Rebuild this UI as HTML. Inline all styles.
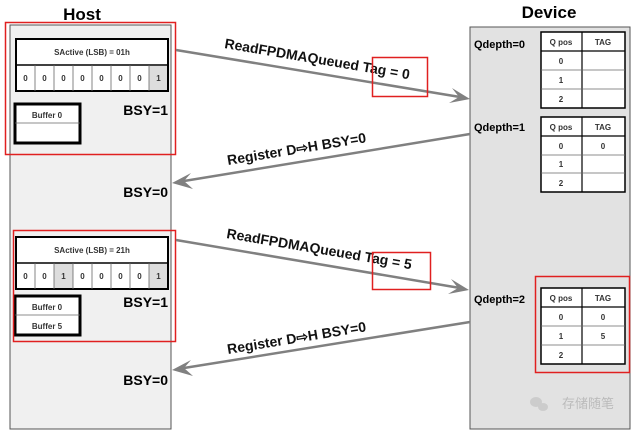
<!DOCTYPE html>
<html><head><meta charset="utf-8"><style>body{margin:0;background:#fff}svg{display:block}</style></head><body>
<svg width="640" height="431" viewBox="0 0 640 431" font-family="Liberation Sans, sans-serif">
<rect x="0" y="0" width="640" height="431" fill="#fff"/>
<text x="82" y="20" font-size="17" font-weight="bold" text-anchor="middle">Host</text>
<text x="549" y="18" font-size="17" font-weight="bold" text-anchor="middle">Device</text>
<rect x="10" y="25" width="161" height="404" fill="#f0f0f0" stroke="#555" stroke-width="1"/>
<rect x="470" y="27" width="160" height="402" fill="#e2e2e2" stroke="#555" stroke-width="1"/>

<rect x="16" y="39" width="152" height="52" fill="#fff" stroke="#000" stroke-width="2"/>
<line x1="16" y1="65" x2="168" y2="65" stroke="#000" stroke-width="1.5"/>
<text x="92" y="55" font-size="8" font-weight="bold" text-anchor="middle" fill="#333">SActive (LSB) = 01h</text>
<rect x="149" y="66" width="18" height="24" fill="#ddd"/>
<g stroke="#666" stroke-width="0.8">
<line x1="35" y1="65" x2="35" y2="91"/><line x1="54" y1="65" x2="54" y2="91"/><line x1="73" y1="65" x2="73" y2="91"/><line x1="92" y1="65" x2="92" y2="91"/><line x1="111" y1="65" x2="111" y2="91"/><line x1="130" y1="65" x2="130" y2="91"/><line x1="149" y1="65" x2="149" y2="91"/>
</g>
<g font-size="8" font-weight="bold" text-anchor="middle" fill="#333">
<text x="25.5" y="81">0</text><text x="44.5" y="81">0</text><text x="63.5" y="81">0</text><text x="82.5" y="81">0</text><text x="101.5" y="81">0</text><text x="120.5" y="81">0</text><text x="139.5" y="81">0</text><text x="158.5" y="81">1</text>
</g>
<rect x="15" y="104" width="65" height="39" fill="#fff" stroke="#000" stroke-width="3"/>
<line x1="15" y1="123" x2="80" y2="123" stroke="#666" stroke-width="0.8"/>
<text x="47" y="118" font-size="8" font-weight="bold" text-anchor="middle" fill="#333">Buffer 0</text>
<text x="168" y="115" font-size="14" font-weight="bold" text-anchor="end">BSY=1</text>
<rect x="5.5" y="22.5" width="170" height="132" fill="none" stroke="#e02020" stroke-width="1.5"/>
<text x="168" y="197" font-size="14" font-weight="bold" text-anchor="end">BSY=0</text>

<rect x="16" y="237" width="152" height="52" fill="#fff" stroke="#000" stroke-width="2"/>
<line x1="16" y1="263" x2="168" y2="263" stroke="#000" stroke-width="1.5"/>
<text x="92" y="253" font-size="8" font-weight="bold" text-anchor="middle" fill="#333">SActive (LSB) = 21h</text>
<rect x="54" y="264" width="19" height="24" fill="#ddd"/>
<rect x="149" y="264" width="18" height="24" fill="#ddd"/>
<g stroke="#666" stroke-width="0.8">
<line x1="35" y1="263" x2="35" y2="289"/><line x1="54" y1="263" x2="54" y2="289"/><line x1="73" y1="263" x2="73" y2="289"/><line x1="92" y1="263" x2="92" y2="289"/><line x1="111" y1="263" x2="111" y2="289"/><line x1="130" y1="263" x2="130" y2="289"/><line x1="149" y1="263" x2="149" y2="289"/>
</g>
<g font-size="8" font-weight="bold" text-anchor="middle" fill="#333">
<text x="25.5" y="279">0</text><text x="44.5" y="279">0</text><text x="63.5" y="279">1</text><text x="82.5" y="279">0</text><text x="101.5" y="279">0</text><text x="120.5" y="279">0</text><text x="139.5" y="279">0</text><text x="158.5" y="279">1</text>
</g>
<rect x="15" y="296" width="65" height="39" fill="#fff" stroke="#000" stroke-width="3"/>
<line x1="15" y1="315" x2="80" y2="315" stroke="#666" stroke-width="0.8"/>
<text x="47" y="310" font-size="8" font-weight="bold" text-anchor="middle" fill="#333">Buffer 0</text>
<text x="47" y="329" font-size="8" font-weight="bold" text-anchor="middle" fill="#333">Buffer 5</text>
<text x="168" y="307" font-size="14" font-weight="bold" text-anchor="end">BSY=1</text>
<rect x="13.5" y="230.5" width="162" height="111" fill="none" stroke="#e02020" stroke-width="1.5"/>
<text x="168" y="385" font-size="14" font-weight="bold" text-anchor="end">BSY=0</text>

<g font-size="8" font-weight="bold" text-anchor="middle" fill="#333">
<rect x="541" y="32" width="84" height="76" fill="#fff" stroke="#000" stroke-width="1.5"/>
<line x1="541" y1="51" x2="625" y2="51" stroke="#000" stroke-width="1.2"/>
<line x1="582" y1="32" x2="582" y2="108" stroke="#000" stroke-width="1.2"/>
<line x1="541" y1="70" x2="625" y2="70" stroke="#666" stroke-width="0.8"/>
<line x1="541" y1="89" x2="625" y2="89" stroke="#666" stroke-width="0.8"/>
<text x="561" y="45">Q pos</text><text x="603" y="45">TAG</text>
<text x="561" y="64">0</text><text x="561" y="83">1</text><text x="561" y="102">2</text>

<rect x="541" y="117" width="84" height="75" fill="#fff" stroke="#000" stroke-width="1.5"/>
<line x1="541" y1="136" x2="625" y2="136" stroke="#000" stroke-width="1.2"/>
<line x1="582" y1="117" x2="582" y2="192" stroke="#000" stroke-width="1.2"/>
<line x1="541" y1="155" x2="625" y2="155" stroke="#666" stroke-width="0.8"/>
<line x1="541" y1="173" x2="625" y2="173" stroke="#666" stroke-width="0.8"/>
<text x="561" y="130">Q pos</text><text x="603" y="130">TAG</text>
<text x="561" y="149">0</text><text x="603" y="149">0</text><text x="561" y="167">1</text><text x="561" y="186">2</text>

<rect x="541" y="288" width="84" height="76" fill="#fff" stroke="#000" stroke-width="1.5"/>
<line x1="541" y1="307" x2="625" y2="307" stroke="#000" stroke-width="1.2"/>
<line x1="582" y1="288" x2="582" y2="364" stroke="#000" stroke-width="1.2"/>
<line x1="541" y1="326" x2="625" y2="326" stroke="#666" stroke-width="0.8"/>
<line x1="541" y1="345" x2="625" y2="345" stroke="#666" stroke-width="0.8"/>
<text x="561" y="301">Q pos</text><text x="603" y="301">TAG</text>
<text x="561" y="320">0</text><text x="603" y="320">0</text><text x="561" y="339">1</text><text x="603" y="339">5</text><text x="561" y="358">2</text>
</g>
<rect x="535.5" y="276.5" width="94" height="96" fill="none" stroke="#e02020" stroke-width="1.5"/>
<g font-size="11" font-weight="bold">
<text x="474" y="48">Qdepth=0</text>
<text x="474" y="131">Qdepth=1</text>
<text x="474" y="303">Qdepth=2</text>
</g>
<text x="614" y="408" font-size="13" fill="#bbb" text-anchor="end" font-family="Liberation Sans, Noto Sans CJK SC, sans-serif">存储随笔</text>
<g fill="#ccc"><ellipse cx="536" cy="402" rx="6" ry="5"/><ellipse cx="543" cy="407" rx="5" ry="4"/></g>

<g stroke="#808080" stroke-width="2.5" fill="none">
<line x1="176" y1="50" x2="460" y2="97"/>
<line x1="470" y1="134" x2="184" y2="181"/>
<line x1="176" y1="240" x2="460" y2="288"/>
<line x1="470" y1="322" x2="184" y2="368"/>
</g>
<g fill="#808080">
<polygon points="470,99 452,88 459,97 449,103"/>
<polygon points="172,183 191,173 184,181 193,189"/>
<polygon points="469,290 451,279 458,288 448,294"/>
<polygon points="172,370 191,360 184,368 193,376"/>
</g>
<g font-size="14" font-weight="bold" fill="#111">
<text transform="translate(224,48) rotate(9.6)">ReadFPDMAQueued Tag = 0</text>
<text transform="translate(228,165) rotate(-9.3)">Register D⇨H BSY=0</text>
<text transform="translate(226,238) rotate(9.6)">ReadFPDMAQueued Tag = 5</text>
<text transform="translate(228,354) rotate(-9.3)">Register D⇨H BSY=0</text>
</g>
<rect x="372.5" y="57.5" width="55" height="39" fill="none" stroke="#e02020" stroke-width="1.5"/>
<rect x="372.5" y="252.5" width="58" height="37" fill="none" stroke="#e02020" stroke-width="1.5"/>
</svg>
</body></html>
